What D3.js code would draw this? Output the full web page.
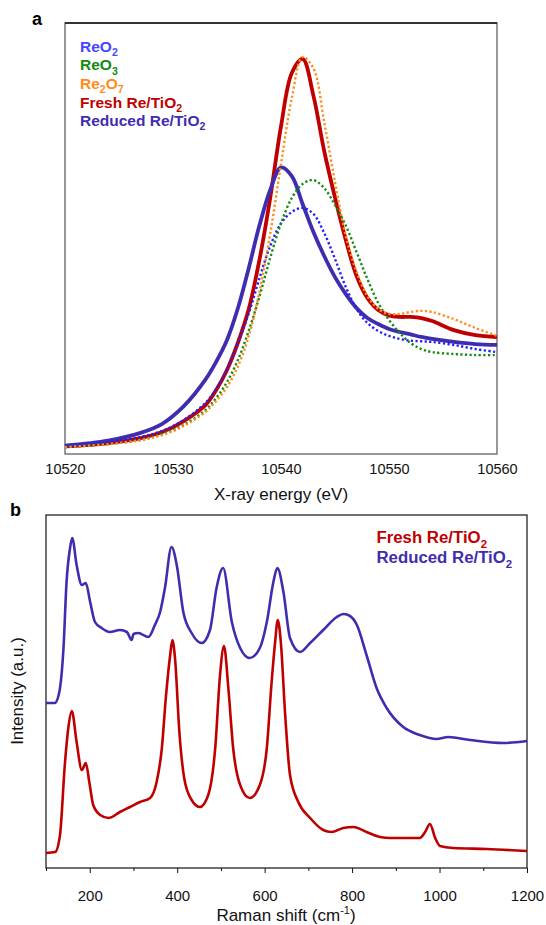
<!DOCTYPE html>
<html><head><meta charset="utf-8">
<script src="https://cdn.jsdelivr.net/npm/d3@7"></script>
<style>
body{margin:0;background:#fff}
svg{display:block}
text{font-family:"Liberation Sans",Arial,Helvetica,sans-serif}
</style>
</head><body>
<svg id="c" width="546" height="925"></svg>
<script>
// ---------- Panel a: XANES ----------
const energy = [10520,10524,10527,10529,10531,10533,10534,10535,10536,10537,10538,10539,10540,10541,10542,10543,10544,10545,10546,10547,10548,10549,10550,10551,10552,10553,10554,10556,10558,10560];
const reo2 = [0.037,0.056,0.079,0.107,0.158,0.237,0.302,0.394,0.515,0.650,0.815,0.965,1.070,1.123,1.142,1.114,1.026,0.905,0.775,0.673,0.608,0.571,0.548,0.534,0.526,0.523,0.520,0.506,0.487,0.473];
const reo3 = [0.032,0.046,0.065,0.093,0.135,0.204,0.260,0.334,0.435,0.570,0.730,0.910,1.070,1.188,1.253,1.271,1.234,1.155,1.060,0.937,0.812,0.701,0.622,0.561,0.515,0.487,0.473,0.464,0.459,0.459];
const re2o7 = [0.032,0.046,0.065,0.088,0.130,0.195,0.246,0.311,0.405,0.545,0.752,1.021,1.346,1.652,1.842,1.790,1.541,1.262,1.012,0.845,0.733,0.673,0.650,0.650,0.659,0.664,0.659,0.626,0.585,0.548];
const freshA = [0.035,0.051,0.074,0.102,0.153,0.227,0.297,0.390,0.515,0.670,0.900,1.188,1.520,1.768,1.833,1.663,1.406,1.190,0.993,0.826,0.724,0.668,0.643,0.636,0.636,0.631,0.617,0.575,0.552,0.543];
const reducedA = [0.039,0.062,0.098,0.140,0.222,0.345,0.428,0.529,0.675,0.860,1.060,1.225,1.330,1.290,1.160,1.030,0.919,0.821,0.742,0.677,0.631,0.603,0.580,0.566,0.555,0.543,0.534,0.520,0.510,0.506];
const energyTicks = [10520,10530,10540,10550,10560];

// ---------- Panel b: Raman ----------
const shiftReduced = [100,120,130,140,147,155,160,170,182,191,201,212,227,246,269,285,296,300,311,334,349,361,372,387,399,414,433,456,475,490,505,525,544,566,589,605,620,629,643,658,681,704,734,765,780,791,811,833,856,879,917,955,993,1020,1070,1146,1200];
const intReduced = [165,165,175,220,286,320,330,303,283,285,266,246,240,236,238,236,228,234,235,231,243,256,280,321,303,256,235,225,238,280,300,246,220,210,220,246,286,300,276,230,216,225,238,251,254,253,243,213,180,160,141,133,129,131,128,125,127];
const shiftFresh = [100,121,132,143,151,159,170,182,191,199,208,224,243,269,292,315,338,353,365,374,384,389,395,405,416,433,452,471,487,498,507,517,528,544,566,589,605,616,624,630,637,647,658,677,704,734,753,780,803,833,864,887,917,955,967,978,990,1001,1031,1108,1200];
const intFresh = [15,16,33,103,140,157,126,98,105,86,63,53,50,56,61,66,70,86,120,170,213,228,210,136,90,68,61,73,120,193,222,180,120,83,70,83,120,186,226,248,226,153,93,66,50,38,36,40,41,36,31,30,30,30,36,44,30,22,20,19,17];
const ramanTicks = [100,200,300,400,500,600,700,800,900,1000,1100,1200];
const ramanLabels = [200,400,600,800,1000,1200];

const svg = d3.select("#c");
const FONT = '"Liberation Sans",Arial,sans-serif';

function richText(sel, parts, size){
  let prevSub = false;
  parts.forEach(([t, sub]) => {
    const ts = sel.append("tspan").text(t);
    if (sub && !prevSub){ ts.attr("font-size", size*0.68).attr("dy", size*0.28); }
    else if (!sub && prevSub){ ts.attr("dy", -size*0.28); }
    else if (sub){ ts.attr("font-size", size*0.68); }
    prevSub = sub;
  });
}

// ===== Panel a =====
const xa = d3.scaleLinear().domain([10520,10560]).range([65,497]);
const ya = d3.scaleLinear().domain([0,2]).range([454,23]);
const ga = svg.append("g");

ga.append("rect").attr("x",65).attr("y",23).attr("width",432).attr("height",431)
  .attr("fill","none").attr("stroke","#6e6e6e").attr("stroke-width",1.4);
ga.append("line").attr("x1",65).attr("x2",497).attr("y1",23).attr("y2",23).attr("stroke","#111").attr("stroke-width",1.3);

const lineA = d3.line().x((d,i)=>xa(energy[i])).y(d=>ya(d)).curve(d3.curveCatmullRom.alpha(0.5));
const seriesA = [
  {v:freshA, c:"#c00000", w:3.8, dash:null},
  {v:reducedA, c:"#3f2db0", w:3.8, dash:null},
  {v:reo2, c:"#1f1fff", w:2.4, dash:"2.2,2.4"},
  {v:reo3, c:"#138a13", w:2.4, dash:"2.2,2.4"},
  {v:re2o7, c:"#ff8c1a", w:2.4, dash:"2.2,2.4"}
];
seriesA.forEach(s=>{
  ga.append("path").attr("d", lineA(s.v)).attr("fill","none")
    .attr("stroke", s.c).attr("stroke-width", s.w)
    .attr("stroke-dasharray", s.dash).attr("stroke-linejoin","round");
});

const axA = d3.axisBottom(xa).tickValues(energyTicks).tickSize(0).tickFormat(d3.format("d"));
const gax = ga.append("g").attr("transform","translate(0,454)").call(axA);
gax.select(".domain").remove();
gax.selectAll("text").attr("y",20).attr("dy",0).attr("font-size",14.5).attr("font-family",FONT).attr("fill","#111");

ga.append("text").attr("x",281).attr("y",500).attr("text-anchor","middle")
  .attr("font-size",17).attr("fill","#111").text("X-ray energy (eV)");
ga.append("text").attr("x",32).attr("y",25).attr("font-size",18).attr("font-weight","bold").text("a");

const legendA = [
  {p:[["ReO",false],["2",true]], c:"#4646ff"},
  {p:[["ReO",false],["3",true]], c:"#138a13"},
  {p:[["Re",false],["2",true],["O",false],["7",true]], c:"#ff8c1a"},
  {p:[["Fresh Re/TiO",false],["2",true]], c:"#c00000"},
  {p:[["Reduced Re/TiO",false],["2",true]], c:"#3f2db0"}
];
legendA.forEach((l,i)=>{
  const t = ga.append("text").attr("x",80).attr("y",51.7+i*18.6)
    .attr("font-size",15.5).attr("font-weight","bold").attr("fill",l.c);
  richText(t, l.p, 15.5);
});

// ===== Panel b =====
const xb = d3.scaleLinear().domain([100,1200]).range([46,527]);
const yb = d3.scaleLinear().domain([0,353]).range([868,515]);
const gb = svg.append("g");

gb.append("rect").attr("x",46).attr("y",515).attr("width",481).attr("height",353)
  .attr("fill","none").attr("stroke","#111").attr("stroke-width",1.2);

const lineB = xs => d3.line().x((d,i)=>xb(xs[i])).y(d=>yb(d)).curve(d3.curveMonotoneX);
gb.append("path").attr("d", lineB(shiftReduced)(intReduced)).attr("fill","none")
  .attr("stroke","#3f2db0").attr("stroke-width",2.6).attr("stroke-linejoin","round");
gb.append("path").attr("d", lineB(shiftFresh)(intFresh)).attr("fill","none")
  .attr("stroke","#c00000").attr("stroke-width",2.6).attr("stroke-linejoin","round");

const axB = d3.axisBottom(xb).tickValues(ramanTicks).tickSizeOuter(0)
  .tickFormat(d => ramanLabels.includes(d) ? d : "");
const gbx = gb.append("g").attr("transform","translate(0,868)").call(axB);
gbx.select(".domain").remove();
gbx.selectAll(".tick line").attr("y2", d => ramanLabels.includes(d) ? 5 : 3).attr("stroke","#111");
gbx.selectAll("text").attr("y",33).attr("dy",0).attr("font-size",15).attr("font-family",FONT).attr("fill","#111");

const xt = gb.append("text").attr("x",286).attr("y",921).attr("text-anchor","middle")
  .attr("font-size",17).attr("fill","#111");
xt.append("tspan").text("Raman shift (cm");
xt.append("tspan").text("-1").attr("font-size",11).attr("dy",-7);
xt.append("tspan").text(")").attr("dy",7);

gb.append("text").attr("transform","translate(23,691) rotate(-90)").attr("text-anchor","middle")
  .attr("font-size",17).attr("fill","#111").text("Intensity (a.u.)");
gb.append("text").attr("x",10).attr("y",516).attr("font-size",18).attr("font-weight","bold").text("b");

const legendB = [
  {p:[["Fresh Re/TiO",false],["2",true]], c:"#c00000"},
  {p:[["Reduced Re/TiO",false],["2",true]], c:"#3f2db0"}
];
legendB.forEach((l,i)=>{
  const t = gb.append("text").attr("x",376.5).attr("y",543+i*20.3)
    .attr("font-size",16.8).attr("font-weight","bold").attr("fill",l.c);
  richText(t, l.p, 16.8);
});
</script>
</body></html>
